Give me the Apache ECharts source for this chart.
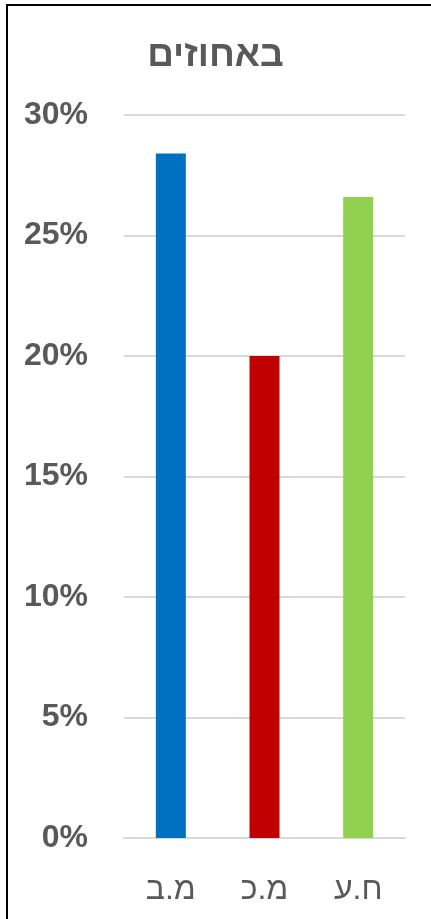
<!DOCTYPE html>
<html>
<head>
<meta charset="utf-8">
<script src="https://cdn.jsdelivr.net/npm/echarts@6/dist/echarts.min.js"></script>
<style>
html,body{margin:0;padding:0;background:#fff;}
#chart{width:431px;height:919px;}
</style>
</head>
<body>
<div id="chart"></div>
<script>
var titleText = 'באחוזים';
var categories = ['מ.ב', 'מ.כ', 'ח.ע'];
var values = [28.4, 20.0, 26.6];
var colors = ['#0070C0', '#C00000', '#92D050'];
var yTicks = [0, 5, 10, 15, 20, 25, 30];

var chart = echarts.init(document.getElementById('chart'));
chart.setOption({
  animation: false,
  title: {
    text: titleText,
    left: 'center',
    top: 32,
    textStyle: { fontFamily: 'Liberation Sans', fontWeight: 'bold', fontSize: 37, color: '#595959' }
  },
  grid: { left: 124, right: 26, top: 115, bottom: 81, containLabel: false },
  xAxis: {
    type: 'category',
    data: categories,
    axisLine: { show: true, lineStyle: { color: '#D9D9D9', width: 2 } },
    axisTick: { show: false },
    axisLabel: { fontFamily: 'Liberation Sans', fontSize: 32, color: '#595959', margin: 36 }
  },
  yAxis: {
    type: 'value',
    min: 0, max: 30, interval: 5,
    axisLine: { show: false },
    axisTick: { show: false },
    splitLine: { lineStyle: { color: '#D9D9D9', width: 2 } },
    axisLabel: {
      fontFamily: 'Liberation Sans', fontWeight: 'bold', fontSize: 32, color: '#595959', margin: 36,
      formatter: function (v) { return yTicks.indexOf(v) >= 0 ? v + '%' : ''; }
    }
  },
  series: [{
    type: 'bar',
    barWidth: 30,
    data: values.map(function (v, i) { return { value: v, itemStyle: { color: colors[i] } }; })
  }],
  graphic: [
    { type: 'line', shape: { x1: 6, y1: 5, x2: 431, y2: 5 }, style: { stroke: '#000', lineWidth: 2 } },
    { type: 'line', shape: { x1: 7, y1: 4, x2: 7, y2: 919 }, style: { stroke: '#000', lineWidth: 2 } }
  ]
});
</script>
</body>
</html>
